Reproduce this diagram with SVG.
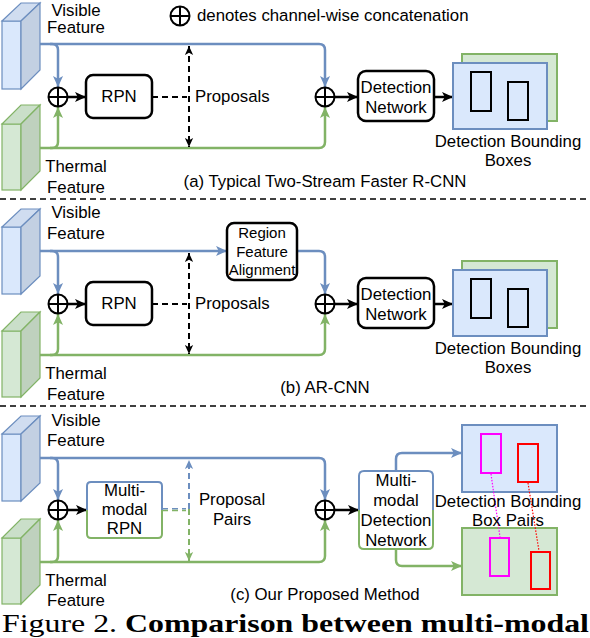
<svg xmlns="http://www.w3.org/2000/svg" width="590" height="638" viewBox="0 0 590 638">
<style>
.t{font-family:"Liberation Sans",Arial,sans-serif;font-size:16.8px;fill:#000}
.m{text-anchor:middle}
.s{font-size:15px}
.bl{fill:none;stroke:#6c8ebf;stroke-width:2.5}
.gr{fill:none;stroke:#82b366;stroke-width:2.5}
.bk{fill:none;stroke:#000;stroke-width:2.5}
.dash{fill:none;stroke:#000;stroke-width:2;stroke-dasharray:6 4}
.sep{fill:none;stroke:#000;stroke-width:1.5;stroke-dasharray:6 4}
.box{fill:#fff;stroke:#000;stroke-width:2.5}
.cf{fill:#dae8fc;stroke:#6c8ebf;stroke-width:1.2}
.cs{fill:#c3d0e2;stroke:#6c8ebf;stroke-width:1.2}
.ct{fill:#d0ddf0;stroke:#6c8ebf;stroke-width:1.2}
.gf{fill:#d5e8d4;stroke:#82b366;stroke-width:1.2}
.gs{fill:#bfd1be;stroke:#82b366;stroke-width:1.2}
.gt{fill:#cadfc9;stroke:#82b366;stroke-width:1.2}
.bb{fill:#dae8fc;stroke:#6c8ebf;stroke-width:2}
.gb{fill:#d5e8d4;stroke:#82b366;stroke-width:2}
.ir{fill:none;stroke:#000;stroke-width:2}
.plus{fill:#fff;stroke:#000;stroke-width:2}
</style>
<defs>
<marker id="ab" viewBox="0 0 12 12" refX="12" refY="6" markerWidth="12" markerHeight="11" markerUnits="userSpaceOnUse" orient="auto-start-reverse"><path d="M0,0.5 L12,6 L0,11.5 L3,6 z" fill="#6c8ebf"/></marker>
<marker id="ag" viewBox="0 0 12 12" refX="12" refY="6" markerWidth="12" markerHeight="11" markerUnits="userSpaceOnUse" orient="auto-start-reverse"><path d="M0,0.5 L12,6 L0,11.5 L3,6 z" fill="#82b366"/></marker>
<marker id="ak" viewBox="0 0 12 12" refX="12" refY="6" markerWidth="12" markerHeight="11" markerUnits="userSpaceOnUse" orient="auto-start-reverse"><path d="M0,0.5 L12,6 L0,11.5 L3,6 z" fill="#000"/></marker>
<marker id="akd" viewBox="0 0 12 12" refX="12" refY="6" markerWidth="10" markerHeight="9" markerUnits="userSpaceOnUse" orient="auto-start-reverse"><path d="M0,0.5 L12,6 L0,11.5 L3,6 z" fill="#000"/></marker>
<marker id="abd" viewBox="0 0 12 12" refX="12" refY="6" markerWidth="10" markerHeight="9" markerUnits="userSpaceOnUse" orient="auto-start-reverse"><path d="M0,0.5 L12,6 L0,11.5 L3,6 z" fill="#6c8ebf"/></marker>
<marker id="agd" viewBox="0 0 12 12" refX="12" refY="6" markerWidth="10" markerHeight="9" markerUnits="userSpaceOnUse" orient="auto-start-reverse"><path d="M0,0.5 L12,6 L0,11.5 L3,6 z" fill="#82b366"/></marker>
<g id="oplus"><circle cx="0" cy="0" r="9.5" class="plus"/><path d="M-9.5,0 H9.5 M0,-9.5 V9.5" stroke="#000" stroke-width="2"/></g>
</defs>

<!-- legend -->
<g id="legend">
<use href="#oplus" x="180" y="16"/>
<text class="t" x="197" y="21">denotes channel-wise concatenation</text>
</g>

<!-- separators -->
<g id="separators">
<path class="sep" d="M0,199 H586"/>
<path class="sep" d="M0,406 H586"/>
</g>

<!-- connectors -->
<g id="connectors">
<!-- (a) -->
<path class="bl" d="M40,44 H319 Q325,44 325,50 V87" marker-end="url(#ab)"/>
<path class="bl" d="M50,44 H52 Q58,44 58,50 V87" marker-end="url(#ab)"/>
<path class="gr" d="M40,148 H319 Q325,148 325,142 V107" marker-end="url(#ag)"/>
<path class="gr" d="M50,148 H52 Q58,148 58,142 V107" marker-end="url(#ag)"/>
<path class="bk" d="M68,97 H86" marker-end="url(#ak)"/>
<path class="bk" d="M335,97 H358" marker-end="url(#ak)"/>
<path class="bk" d="M434,97 H453" marker-end="url(#ak)"/>
<path class="dash" d="M152,97 H187"/>
<path class="dash" d="M189,46 V147" marker-start="url(#akd)" marker-end="url(#akd)"/>
<!-- (b) -->
<path class="bl" d="M40,251 H227" marker-end="url(#ab)"/>
<path class="bl" d="M297,251 H319 Q325,251 325,257 V294" marker-end="url(#ab)"/>
<path class="bl" d="M50,251 H52 Q58,251 58,257 V294" marker-end="url(#ab)"/>
<path class="gr" d="M40,355 H319 Q325,355 325,349 V314" marker-end="url(#ag)"/>
<path class="gr" d="M50,355 H52 Q58,355 58,349 V314" marker-end="url(#ag)"/>
<path class="bk" d="M68,304 H86" marker-end="url(#ak)"/>
<path class="bk" d="M335,304 H358" marker-end="url(#ak)"/>
<path class="bk" d="M434,304 H453" marker-end="url(#ak)"/>
<path class="dash" d="M152,304 H187"/>
<path class="dash" d="M189,253 V354" marker-start="url(#akd)" marker-end="url(#akd)"/>
<!-- (c) -->
<path class="bl" d="M40,458 H319 Q325,458 325,464 V500" marker-end="url(#ab)"/>
<path class="bl" d="M50,458 H52 Q58,458 58,464 V500" marker-end="url(#ab)"/>
<path class="gr" d="M40,562 H319 Q325,562 325,556 V520" marker-end="url(#ag)"/>
<path class="gr" d="M50,562 H52 Q58,562 58,556 V520" marker-end="url(#ag)"/>
<path class="bk" d="M68,510 H87" marker-end="url(#ak)"/>
<path class="bk" d="M335,510 H359" marker-end="url(#ak)"/>
<path class="bl" d="M396,471 V459 Q396,453 402,453 H462" marker-end="url(#ab)"/>
<path class="gr" d="M396,549 V560 Q396,566 402,566 H462" marker-end="url(#ag)"/>
<path d="M162,508.7 H186" fill="none" stroke="#6c8ebf" stroke-width="1.6" stroke-dasharray="6 4"/>
<path d="M162,510.5 H186" fill="none" stroke="#82b366" stroke-width="1.6" stroke-dasharray="6 4"/>
<path d="M189,509 V460" fill="none" stroke="#6c8ebf" stroke-width="2" stroke-dasharray="6 4" marker-end="url(#abd)"/>
<path d="M189,509 V561" fill="none" stroke="#82b366" stroke-width="2" stroke-dasharray="6 4" marker-end="url(#agd)"/>
</g>

<!-- cubes -->
<g id="visible-a">
<rect class="cf" x="2" y="21" width="19" height="68"/>
<polygon class="ct" points="2,21 21,21 40,3 21,3"/>
<polygon class="cs" points="21,21 40,3 40,70 21,89"/>
</g>
<g id="thermal-a">
<rect class="gf" x="2" y="124" width="19" height="66"/>
<polygon class="gt" points="2,124 21,124 40,105 21,105"/>
<polygon class="gs" points="21,124 40,105 40,171 21,190"/>
</g>
<g id="visible-b">
<rect class="cf" x="2" y="227" width="19" height="67"/>
<polygon class="ct" points="2,227 21,227 40,209 21,209"/>
<polygon class="cs" points="21,227 40,209 40,276 21,294"/>
</g>
<g id="thermal-b">
<rect class="gf" x="2" y="331" width="19" height="66"/>
<polygon class="gt" points="2,331 21,331 40,312 21,312"/>
<polygon class="gs" points="21,331 40,312 40,378 21,397"/>
</g>
<g id="visible-c">
<rect class="cf" x="2" y="434" width="19" height="67"/>
<polygon class="ct" points="2,434 21,434 40,416 21,416"/>
<polygon class="cs" points="21,434 40,416 40,483 21,501"/>
</g>
<g id="thermal-c">
<rect class="gf" x="2" y="538" width="19" height="66"/>
<polygon class="gt" points="2,538 21,538 40,519 21,519"/>
<polygon class="gs" points="21,538 40,519 40,585 21,604"/>
</g>

<!-- feature labels -->
<g id="labels-a">
<text class="t m" x="76" y="15.5">Visible</text>
<text class="t m" x="76" y="33">Feature</text>
<text class="t m" x="76" y="172">Thermal</text>
<text class="t m" x="76" y="192.5">Feature</text>
</g>
<g id="labels-b">
<text class="t m" x="76" y="218">Visible</text>
<text class="t m" x="76" y="238.5">Feature</text>
<text class="t m" x="76" y="379">Thermal</text>
<text class="t m" x="76" y="399.5">Feature</text>
</g>
<g id="labels-c">
<text class="t m" x="76" y="425.5">Visible</text>
<text class="t m" x="76" y="446">Feature</text>
<text class="t m" x="76" y="586">Thermal</text>
<text class="t m" x="76" y="606">Feature</text>
</g>

<!-- concat nodes -->
<g id="concat-a1"><use href="#oplus" x="58" y="97"/></g>
<g id="concat-a2"><use href="#oplus" x="325" y="97"/></g>
<g id="concat-b1"><use href="#oplus" x="58" y="304"/></g>
<g id="concat-b2"><use href="#oplus" x="325" y="304"/></g>
<g id="concat-c1"><use href="#oplus" x="58" y="510"/></g>
<g id="concat-c2"><use href="#oplus" x="325" y="510"/></g>

<!-- RPN a -->
<g id="rpn-a">
<rect class="box" x="86" y="75" width="66" height="43" rx="7"/>
<text class="t m" x="119" y="102">RPN</text>
</g>
<g id="proposals-a"><text class="t" x="195" y="102">Proposals</text></g>
<g id="det-a">
<rect class="box" x="358" y="71" width="76" height="50" rx="8"/>
<text class="t m" x="396" y="92.5">Detection</text>
<text class="t m" x="396" y="112.5">Network</text>
</g>
<g id="boxes-a">
<rect class="gb" x="462" y="54" width="95" height="67"/>
<rect class="bb" x="453" y="63" width="94" height="66"/>
<rect class="ir" x="471" y="72" width="20" height="39"/>
<rect class="ir" x="508" y="82" width="20" height="38"/>
<text class="t m" x="508" y="146.5">Detection Bounding</text>
<text class="t m" x="508" y="165.5">Boxes</text>
</g>
<g id="caption-a"><text class="t m" x="325" y="187">(a) Typical Two-Stream Faster R-CNN</text></g>

<!-- b -->
<g id="rfa-b">
<rect class="box" x="227" y="223" width="70" height="57" rx="7"/>
<text class="t m s" x="262" y="238">Region</text>
<text class="t m s" x="262" y="256.5">Feature</text>
<text class="t m s" x="262" y="274.5">Alignment</text>
</g>
<g id="rpn-b">
<rect class="box" x="86" y="282" width="66" height="43" rx="7"/>
<text class="t m" x="119" y="309">RPN</text>
</g>
<g id="proposals-b"><text class="t" x="195" y="309">Proposals</text></g>
<g id="det-b">
<rect class="box" x="358" y="278" width="76" height="50" rx="8"/>
<text class="t m" x="396" y="299.5">Detection</text>
<text class="t m" x="396" y="319.5">Network</text>
</g>
<g id="boxes-b">
<rect class="gb" x="462" y="261" width="95" height="67"/>
<rect class="bb" x="453" y="270" width="94" height="66"/>
<rect class="ir" x="471" y="279" width="20" height="39"/>
<rect class="ir" x="508" y="289" width="20" height="38"/>
<text class="t m" x="508" y="353.5">Detection Bounding</text>
<text class="t m" x="508" y="372.5">Boxes</text>
</g>
<g id="caption-b"><text class="t m" x="325" y="393">(b) AR-CNN</text></g>

<!-- c -->
<g id="mmrpn-c">
<rect x="87" y="482" width="75" height="56" rx="4" fill="#fff"/>
<path d="M87,510 V486 Q87,482 91,482 H158 Q162,482 162,486 V510" fill="none" stroke="#6c8ebf" stroke-width="2"/>
<path d="M87,510 V534 Q87,538 91,538 H158 Q162,538 162,534 V510" fill="none" stroke="#82b366" stroke-width="2"/>
<text class="t m" x="124.5" y="496">Multi-</text>
<text class="t m" x="124.5" y="515">modal</text>
<text class="t m" x="124.5" y="534">RPN</text>
</g>
<g id="pairs-c">
<text class="t m" x="232" y="505">Proposal</text>
<text class="t m" x="232" y="525">Pairs</text>
</g>
<g id="mmdet-c">
<rect x="359" y="471" width="74" height="78" rx="5" fill="#fff"/>
<path d="M359,510 V476 Q359,471 364,471 H428 Q433,471 433,476 V510" fill="none" stroke="#6c8ebf" stroke-width="2"/>
<path d="M359,510 V544 Q359,549 364,549 H428 Q433,549 433,544 V510" fill="none" stroke="#82b366" stroke-width="2"/>
<text class="t m" x="396" y="486">Multi-</text>
<text class="t m" x="396" y="506">modal</text>
<text class="t m" x="396" y="526">Detection</text>
<text class="t m" x="396" y="545.5">Network</text>
</g>
<g id="pairs-boxes-c">
<rect class="bb" x="462" y="425" width="95" height="67"/>
<rect class="gb" x="462" y="528" width="95" height="67"/>
<rect x="481" y="434" width="20" height="39" fill="none" stroke="#ff00ff" stroke-width="2"/>
<rect x="518" y="444" width="20" height="38" fill="none" stroke="#ff0000" stroke-width="2"/>
<rect x="490" y="538" width="19" height="38" fill="none" stroke="#ff00ff" stroke-width="2"/>
<rect x="531" y="552" width="19" height="37" fill="none" stroke="#ff0000" stroke-width="2"/>
<path d="M491,474 L500,537" fill="none" stroke="#ff00ff" stroke-width="1.2" stroke-dasharray="1.5 1.5"/>
<path d="M528,483 L539,551" fill="none" stroke="#ff0000" stroke-width="1.2" stroke-dasharray="1.5 1.5"/>
<text class="t m" x="508" y="507">Detection Bounding</text>
<text class="t m" x="508" y="526">Box Pairs</text>
</g>
<g id="caption-c"><text class="t m" x="325" y="600">(c) Our Proposed Method</text></g>

<g id="figure-caption">
<text x="2" y="632" font-family="'Liberation Serif','Times New Roman',serif" font-size="25" fill="#000" textLength="587" lengthAdjust="spacingAndGlyphs">Figure 2. <tspan font-weight="bold">Comparison between multi-modal</tspan></text>
</g>
</svg>
